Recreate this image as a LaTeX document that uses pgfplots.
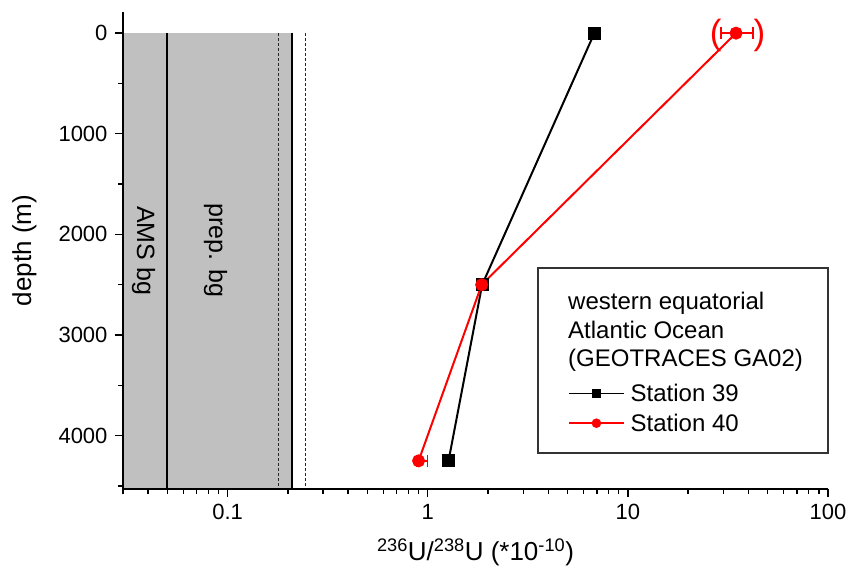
\documentclass[border=0pt]{standalone}
\usepackage{fontspec}
\setmainfont{Liberation Sans}
\usepackage{pgfplots}
\pgfplotsset{compat=1.18}
\definecolor{bggray}{HTML}{C0C0C0}
\definecolor{boxgray}{HTML}{333333}
\begin{document}
\begin{tikzpicture}
\begin{axis}[
  name=ax,
  scale only axis, width=705pt, height=477pt,
  xmode=log, xmin=0.03, xmax=100,
  ymin=-210, ymax=4530, y dir=reverse,
  axis lines=left, axis line style={-, line width=2pt},
  tick align=outside, tick style={line width=1.4pt, black},
  major tick length=8pt, minor tick length=5pt,
  xtick={0.1,1,10,100}, xticklabels={0.1,1,10,100},
  minor xtick={0.03,0.04,0.05,0.06,0.07,0.08,0.09,0.2,0.3,0.4,0.5,0.6,0.7,0.8,0.9,2,3,4,5,6,7,8,9,20,30,40,50,60,70,80,90},
  ytick={0,1000,2000,3000,4000}, minor ytick={500,1500,2500,3500,4500},
  tick label style={font=\fontsize{22}{26}\selectfont},
  yticklabel style={xshift=-4pt},
  xticklabel style={yshift=-4pt},
  /pgf/number format/assume math mode=true, /pgf/number format/1000 sep={},
  xlabel={\textsuperscript{236}U/\textsuperscript{238}U (*10\textsuperscript{-10})},
  ylabel={depth (m)},
  every axis y label/.style={at={(axis description cs:-0.14,0.5)}, rotate=90, anchor=center, font=\fontsize{26}{30}\selectfont},
  every axis x label/.style={at={(axis description cs:0.5,-0.150)}, anchor=base, font=\fontsize{26}{30}\selectfont},
  axis on top,
  clip=false,
  legend style={draw=none, fill=none, font=\fontsize{24}{29}\selectfont,
    at={(axis description cs:0.6312,0.225)}, anchor=north west,
    row sep=7pt, inner sep=0pt, nodes={inner sep=2pt, anchor=west}, column sep=4pt},
  legend cell align=left,
  legend image code/.code={\draw[mark repeat=2,mark phase=2, mark size=4pt, line width=1.5pt] plot coordinates {(0pt,0pt)(27.5pt,0pt)(55pt,0pt)};},
]
% background shading and lines
\addplot[fill=bggray, draw=none, forget plot] coordinates {(0.03,0) (0.21,0) (0.21,4530) (0.03,4530)} -- cycle;
\addplot[black, line width=1.8pt, forget plot] coordinates {(0.05,0) (0.05,4530)};
\addplot[black, line width=2pt, forget plot] coordinates {(0.21,0) (0.21,4530)};
\addplot[black!85, line width=1.4pt, dash pattern=on 3pt off 2pt, forget plot] coordinates {(0.18,0) (0.18,4530)};
\addplot[black!85, line width=1.4pt, dash pattern=on 3pt off 2pt, forget plot] coordinates {(0.245,0) (0.245,4530)};
\node[rotate=-90, font=\fontsize{25}{30}\selectfont] at (axis cs:0.038,2160) {AMS bg};
\node[rotate=-90, font=\fontsize{25}{30}\selectfont] at (axis cs:0.087,2160) {prep. bg};
% data
\addplot[black, line width=2pt, mark=square*, mark size=5.5pt] coordinates {(6.8,0) (1.87,2500) (1.27,4250)};
\addlegendentry{Station 39}
\addplot[red, line width=2pt, mark=*, mark size=5.5pt,
  error bars/.cd, x dir=both, x explicit, error bar style={line width=1.4pt}, error mark options={rotate=90, mark size=6pt, line width=1.4pt}]
  coordinates {(34.7,0) += (7.5,0) -= (5.5,0) (1.86,2500) += (0,0) -= (0,0) (0.9,4250) += (0.1,0) -= (0.02,0)};
\addlegendentry{Station 40}
\node[red, font=\fontsize{35}{40}\selectfont] at (axis cs:27.5,20) {(};
\node[red, font=\fontsize{35}{40}\selectfont] at (axis cs:45.5,20) {)};
% legend box and title
\draw[line width=1.6pt, boxgray] (axis description cs:0.5887,0.0755) rectangle (axis description cs:1,0.4633);
\node[anchor=base west, inner sep=0pt, font=\fontsize{24}{29}\selectfont] at (axis description cs:0.6312,0.3753) {western equatorial};
\node[anchor=base west, inner sep=0pt, font=\fontsize{24}{29}\selectfont] at (axis description cs:0.6312,0.3145) {Atlantic Ocean};
\node[anchor=base west, inner sep=0pt, font=\fontsize{24}{29}\selectfont] at (axis description cs:0.6312,0.2558) {(GEOTRACES GA02)};
\end{axis}
\pgfresetboundingbox
\path[use as bounding box] ([shift={(-123pt,-80pt)}]ax.south west) rectangle ([shift={(22pt,12pt)}]ax.north east);
\end{tikzpicture}
\end{document}
